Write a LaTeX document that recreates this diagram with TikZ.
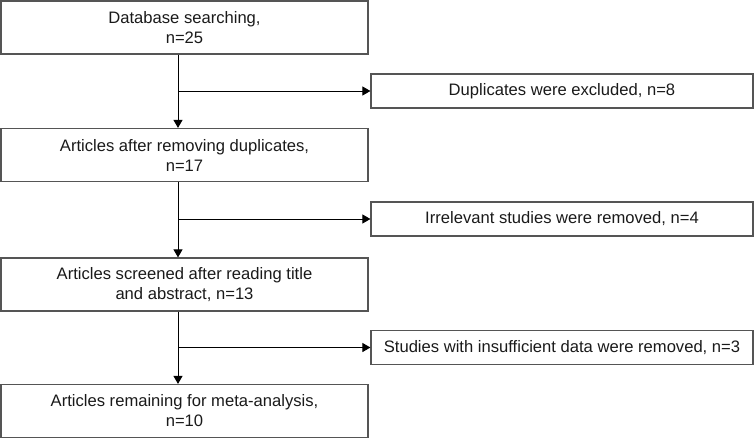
\documentclass[tikz,border=0pt]{standalone}
\usepackage{fontspec}
\setmainfont{Liberation Sans}
\usetikzlibrary{arrows.meta}
\definecolor{boxline}{HTML}{555555}
\definecolor{txt}{HTML}{1A1A1A}
\tikzset{
  lbox/.style={draw=boxline, line width=1.2pt, minimum width=367pt, minimum height=53pt,
    inner sep=0pt, align=center, text=txt, font=\fontsize{16.6}{20}\selectfont},
  rbox/.style={draw=boxline, line width=1.2pt, minimum width=382pt, minimum height=34pt,
    inner sep=0pt, align=center, text=txt, font=\fontsize{16.6}{20}\selectfont},
  arr/.style={draw=black, line width=1pt, -{Triangle[length=8pt,width=9pt]}}
}
\begin{document}
\begin{tikzpicture}[x=1pt,y=-1pt]
\useasboundingbox (0,0) rectangle (754,439);
\node[lbox] (b1) at (184.5,27.5) {Database searching,\\n=25};
\node[lbox] (b2) at (184.5,155) {Articles after removing duplicates,\\n=17};
\node[lbox] (b3) at (184.5,284.5) {Articles screened after reading title\\and abstract, n=13};
\node[lbox] (b4) at (184.5,411) {Articles remaining for meta-analysis,\\n=10};
\node[rbox] (r1) at (562,91) {Duplicates were excluded, n=8};
\node[rbox] (r2) at (562,219) {Irrelevant studies were removed, n=4};
\node[rbox] (r3) at (562,347.5) {Studies with insufficient data were removed, n=3};
\coordinate (v) at (178,0);
\draw[arr] (b1.south -| v) -- (b2.north -| v);
\draw[arr] (b2.south -| v) -- (b3.north -| v);
\draw[arr] (b3.south -| v) -- (b4.north -| v);
\draw[arr] (r1.west -| v) -- (r1.west);
\draw[arr] (r2.west -| v) -- (r2.west);
\draw[arr] (r3.west -| v) -- (r3.west);
\end{tikzpicture}
\end{document}
